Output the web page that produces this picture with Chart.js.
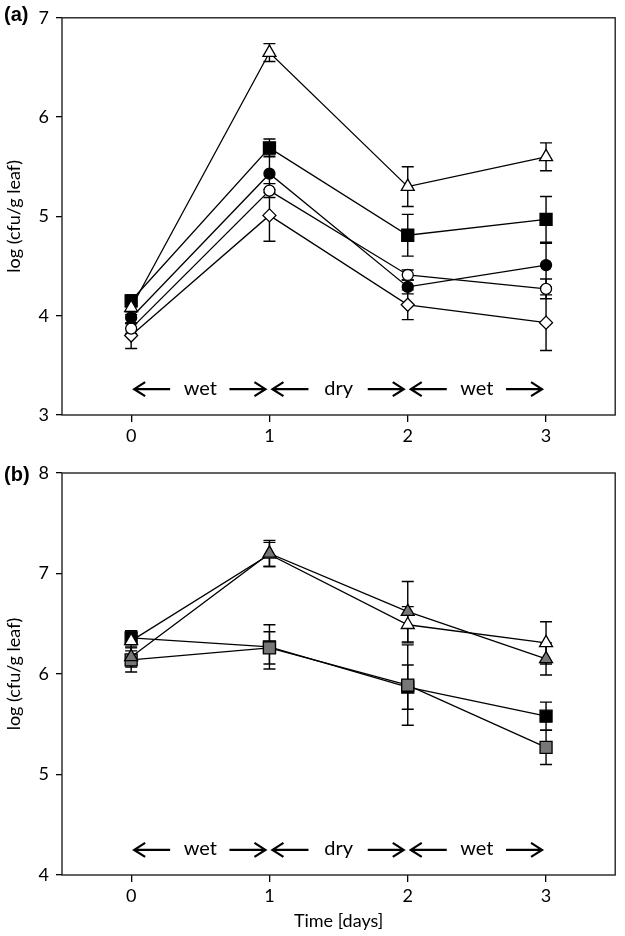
<!DOCTYPE html>
<html>
<head>
<meta charset="utf-8">
<script src="https://cdn.jsdelivr.net/npm/chart.js@4.4.1/dist/chart.umd.min.js"></script>
<style>
  body { margin: 0; background: #fff; }
  .panel { position: absolute; left: 0; }
</style>
</head>
<body>
<div class="panel" style="top:0"><canvas id="chartA" width="625" height="450"></canvas></div>
<div class="panel" style="top:450px"><canvas id="chartB" width="625" height="486"></canvas></div>
<script>
const days = [0, 1, 2, 3];
const phases = ["wet", "dry", "wet"];

// panel (a)
const aTicks = [3, 4, 5, 6, 7];
const aTriangle = [4.08, 6.65, 5.30, 5.60];
const aTriangleErr = [0.07, 0.09, 0.20, 0.14];
const aSquare = [4.15, 5.69, 4.81, 4.97];
const aSquareErr = [0.06, 0.09, 0.21, 0.23];
const aDot = [3.98, 5.43, 4.29, 4.51];
const aDotErr = [0.06, 0.19, 0.07, 0.22];
const aCircle = [3.87, 5.26, 4.41, 4.27];
const aCircleErr = [0.05, 0.07, 0.05, 0.10];
const aDiamond = [3.80, 5.01, 4.11, 3.93];
const aDiamondErr = [0.13, 0.26, 0.15, 0.28];

// panel (b)
const bTicks = [4, 5, 6, 7, 8];
const bSquare = [6.36, 6.27, 5.87, 5.58];
const bSquareErr = [0.07, 0.22, 0.22, 0.14];
const bGraySquare = [6.14, 6.26, 5.89, 5.27];
const bGraySquareErr = [0.12, 0.16, 0.40, 0.17];
const bTriangle = [6.33, 7.19, 6.49, 6.31];
const bTriangleErr = [0.10, 0.12, 0.18, 0.21];
const bGrayTriangle = [6.17, 7.20, 6.62, 6.15];
const bGrayTriangleErr = [0.10, 0.13, 0.30, 0.16];

const FONT = "Lato";
const GRAY = "#777";

function pts(vals) {
  return vals.map((v, i) => ({ x: days[i], y: v }));
}

function series(vals, errs, style, fill, radius) {
  return {
    data: pts(vals),
    errors: errs,
    pointStyle: style,
    pointRadius: radius,
    pointBackgroundColor: fill,
    pointBorderColor: "#000",
    pointBorderWidth: 1.3,
    borderColor: "#000",
    borderWidth: 1.3,
    tension: 0,
    fill: false
  };
}

// error bars, frame, wet/dry arrows and panel letter
const extras = {
  id: "extras",
  beforeDatasetsDraw(chart) {
    const ctx = chart.ctx;
    const ys = chart.scales.y;
    ctx.save();
    ctx.strokeStyle = "#000";
    ctx.lineWidth = 1.4;
    chart.data.datasets.forEach((ds, di) => {
      const meta = chart.getDatasetMeta(di);
      ds.data.forEach((p, i) => {
        const e = ds.errors[i];
        const x = meta.data[i].x;
        const y1 = ys.getPixelForValue(p.y + e);
        const y2 = ys.getPixelForValue(p.y - e);
        ctx.beginPath();
        ctx.moveTo(x, y1); ctx.lineTo(x, y2);
        ctx.moveTo(x - 6, y1); ctx.lineTo(x + 6, y1);
        ctx.moveTo(x - 6, y2); ctx.lineTo(x + 6, y2);
        ctx.stroke();
      });
    });
    ctx.restore();
  },
  afterDraw(chart, args, opts) {
    const ctx = chart.ctx;
    const a = chart.chartArea;
    const xs = chart.scales.x;
    const ys = chart.scales.y;
    ctx.save();
    ctx.strokeStyle = "#222";
    ctx.lineWidth = 1.4;
    ctx.strokeRect(a.left, a.top, a.right - a.left, a.bottom - a.top);

    // phase arrows
    const y = ys.getPixelForValue(opts.arrowAt);
    ctx.lineWidth = 2.2;
    ctx.strokeStyle = "#000";
    ctx.fillStyle = "#000";
    ctx.font = "20px " + FONT;
    ctx.textAlign = "center";
    ctx.textBaseline = "middle";
    phases.forEach((label, i) => {
      const x0 = xs.getPixelForValue(days[i]);
      const x1 = xs.getPixelForValue(days[i + 1]);
      ctx.beginPath();
      // left arrow
      ctx.moveTo(x0 + 3, y); ctx.lineTo(x0 + 39, y);
      ctx.moveTo(x0 + 14, y - 7); ctx.lineTo(x0 + 3, y); ctx.lineTo(x0 + 14, y + 7);
      // right arrow
      ctx.moveTo(x1 - 40, y); ctx.lineTo(x1 - 4, y);
      ctx.moveTo(x1 - 15, y - 7); ctx.lineTo(x1 - 4, y); ctx.lineTo(x1 - 15, y + 7);
      ctx.stroke();
      ctx.fillText(label, (x0 + x1) / 2, y - 1);
    });

    // panel letter
    ctx.font = "bold 20px 'Liberation Sans'";
    ctx.textAlign = "left";
    ctx.fillText(opts.letter, 4, opts.letterY);
    ctx.restore();
  }
};

function makeChart(id, datasets, yTicks, xHeight, padTop, letter, letterY, arrowAt, showTitle) {
  return new Chart(document.getElementById(id), {
    type: "line",
    data: { datasets },
    plugins: [extras],
    options: {
      responsive: false,
      animation: false,
      layout: { padding: { top: padTop, right: 5, left: 0, bottom: 0 } },
      plugins: {
        legend: { display: false },
        tooltip: { enabled: false },
        extras: { letter, letterY, arrowAt }
      },
      scales: {
        x: {
          type: "linear",
          min: -0.5,
          max: 3.5,
          afterBuildTicks: s => { s.ticks = days.map(v => ({ value: v })); },
          afterFit: s => { s.height = xHeight; },
          border: { display: false },
          grid: { drawOnChartArea: false, drawTicks: true, tickLength: 7, color: "#000", lineWidth: 1.3 },
          ticks: { color: "#000", padding: 3, font: { family: FONT, size: 18 } },
          title: {
            display: showTitle,
            text: "Time [days]",
            color: "#000",
            font: { family: FONT, size: 18 },
            padding: { top: 0, bottom: 4 }
          }
        },
        y: {
          min: yTicks[0],
          max: yTicks[yTicks.length - 1],
          afterBuildTicks: s => { s.ticks = yTicks.map(v => ({ value: v })); },
          afterFit: s => { s.width = 62; },
          border: { display: false },
          grid: { drawOnChartArea: false, drawTicks: true, tickLength: 6, color: "#000", lineWidth: 1.3 },
          ticks: { color: "#000", padding: 7, font: { family: FONT, size: 18 } },
          title: {
            display: true,
            text: "log (cfu/g leaf)",
            color: "#000",
            font: { family: FONT, size: 18 },
            padding: { top: 3, bottom: 0 }
          }
        }
      }
    }
  });
}

makeChart("chartA", [
  series(aTriangle, aTriangleErr, "triangle", "#fff", 7.5),
  series(aSquare, aSquareErr, "rect", "#000", 8.5),
  series(aDot, aDotErr, "circle", "#000", 5.5),
  series(aCircle, aCircleErr, "circle", "#fff", 5.5),
  series(aDiamond, aDiamondErr, "rectRot", "#fff", 6.5)
], aTicks, 35, 13, "(a)", 15, 3.26, false);

makeChart("chartB", [
  series(bGrayTriangle, bGrayTriangleErr, "triangle", GRAY, 7.5),
  series(bTriangle, bTriangleErr, "triangle", "#fff", 7.5),
  series(bGraySquare, bGraySquareErr, "rect", GRAY, 8.5),
  series(bSquare, bSquareErr, "rect", "#000", 8.5)
], bTicks, 61, 23, "(b)", 25, 4.25, true);
</script>
</body>
</html>
